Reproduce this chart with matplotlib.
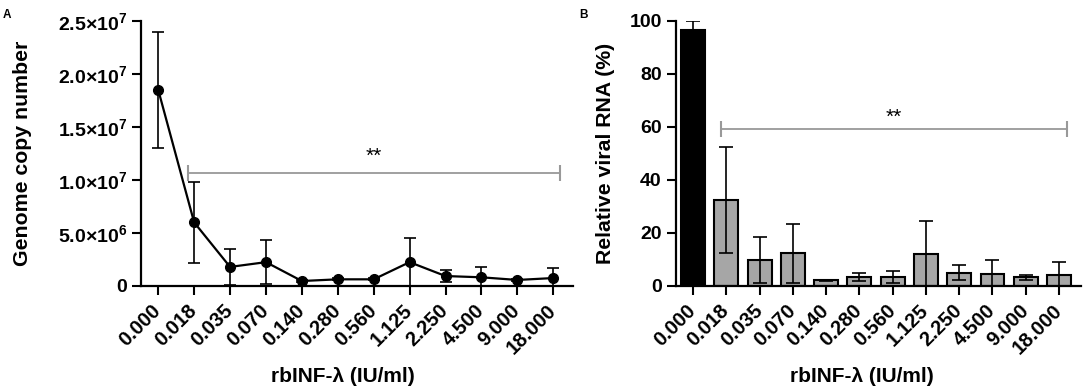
import numpy as np
import matplotlib
matplotlib.use("Agg")
import matplotlib.pyplot as plt
from matplotlib.ticker import FuncFormatter, FixedLocator

plt.rcParams['font.family'] = ['Liberation Sans', 'DejaVu Sans']
plt.rcParams['mathtext.fontset'] = 'custom'
plt.rcParams['mathtext.rm'] = 'Liberation Sans'
plt.rcParams['mathtext.bf'] = 'Liberation Sans:bold'
plt.rcParams['mathtext.it'] = 'Liberation Sans:italic'

# ---- data ----
doses = ["0.000", "0.018", "0.035", "0.070", "0.140", "0.280", "0.560",
         "1.125", "2.250", "4.500", "9.000", "18.000"]

genome_mean = [1.85e7, 6.0e6, 1.8e6, 2.25e6, 4.7e5, 6.3e5, 6.3e5,
               2.25e6, 9.4e5, 8.2e5, 5.7e5, 7.5e5]
genome_sd = [5.5e6, 3.8e6, 1.7e6, 2.1e6, 1.0e5, 1.0e5, 1.0e5,
             2.3e6, 5.4e5, 9.4e5, 1.0e5, 9.8e5]

rna_mean = [96.6, 32.5, 9.8, 12.3, 2.1, 3.5, 3.5, 12.1, 5.0, 4.5, 3.3, 4.0]
rna_sd = [3.4, 20.1, 8.8, 11.1, 0.3, 1.5, 2.2, 12.4, 2.9, 5.3, 1.0, 5.1]
bar_colors = ["black"] + ["#a6a6a6"] * 11

yticks_a = [0, 5e6, 1e7, 1.5e7, 2e7, 2.5e7]
yticks_b = [0, 20, 40, 60, 80, 100]

# significance bracket (start index, end index, height, star baseline)
sig_a = (0.84, 11.19, 1.069e7, 1.175e7)
sig_b = (0.83, 11.23, 59.1, 61.7)

xlabel = "rbINF-λ (IU/ml)"

W, H = 1084, 390
fig = plt.figure(figsize=(W / 100, H / 100), dpi=100)

axA = fig.add_axes([141 / W, 1 - 286 / H, 432 / W, 265 / H])
axB = fig.add_axes([675.7 / W, 1 - 286 / H, 405.3 / W, 265 / H])

x = np.arange(len(doses))


def sci_fmt(v, pos):
    if v == 0:
        return "0"
    e = int(np.floor(np.log10(v)))
    m = v / 10 ** e
    return r"$\mathbf{%.1f{\times}10^{%d}}$" % (m, e)


def style(ax, xlab_x):
    for s in ["top", "right"]:
        ax.spines[s].set_visible(False)
    for s in ["left", "bottom"]:
        ax.spines[s].set_linewidth(1.6)
    ax.tick_params(axis="both", direction="out", length=6.5, width=1.5,
                   labelsize=14)
    ax.tick_params(axis="x", pad=9, labelsize=14.5)
    ax.set_xticks(x)
    ax.set_xticklabels(doses, rotation=45, ha="right", va="center",
                       rotation_mode="anchor", fontweight="bold")
    for lab in ax.get_yticklabels():
        lab.set_fontweight("bold")
    ax.set_xlabel(xlabel, fontsize=15, fontweight="bold")
    ax.xaxis.set_label_coords(xlab_x, -0.34)
    ax.xaxis.label.set_va("center")


# ---- Panel A ----
axA.errorbar(x, genome_mean, yerr=genome_sd, color="black", lw=1.6,
             marker="o", markersize=7, ecolor="black", elinewidth=1.2,
             capsize=4, capthick=1.2, zorder=3)
axA.set_xlim(-0.48, 11.55)
axA.set_ylim(0, 2.5e7)
axA.yaxis.set_major_locator(FixedLocator(yticks_a))
axA.yaxis.set_major_formatter(FuncFormatter(sci_fmt))
style(axA, (343 - 141) / 432)
axA.set_ylabel("Genome copy number", fontsize=15.3, fontweight="bold")
axA.yaxis.set_label_coords((32 - 141) / 432, 0.5)
axA.plot([sig_a[0], sig_a[1]], [sig_a[2], sig_a[2]], color="#999999",
         lw=1.3, marker="|", markersize=12, mew=1.5, zorder=2)
axA.text((sig_a[0] + sig_a[1]) / 2 - 0.02, sig_a[3], "**", ha="center",
         va="baseline", fontsize=15)

# ---- Panel B ----
axB.bar(x, rna_mean, width=0.72, color=bar_colors, edgecolor="black",
        linewidth=1.5, zorder=2)
axB.errorbar(x, rna_mean, yerr=rna_sd, fmt="none", ecolor="black",
             elinewidth=1.2, capsize=5, capthick=1.2, zorder=3)
axB.set_xlim(-0.52, 11.66)
axB.set_ylim(0, 100)
axB.yaxis.set_major_locator(FixedLocator(yticks_b))
style(axB, (862 - 675.7) / 405.3)
axB.set_ylabel("Relative viral RNA (%)", fontsize=15.3, fontweight="bold")
axB.yaxis.set_label_coords((615 - 675.7) / 405.3, 0.5)
axB.plot([sig_b[0], sig_b[1]], [sig_b[2], sig_b[2]], color="#999999",
         lw=1.3, marker="|", markersize=12, mew=1.5, zorder=2)
axB.text((sig_b[0] + sig_b[1]) / 2, sig_b[3], "**", ha="center",
         va="baseline", fontsize=15)

fig.text(3 / W, 1 - 9 / H, "A", fontsize=8.5, fontweight="bold", va="top")
fig.text(579 / W, 1 - 9 / H, "B", fontsize=8.5, fontweight="bold", va="top")

fig.savefig("out.png", dpi=100)
